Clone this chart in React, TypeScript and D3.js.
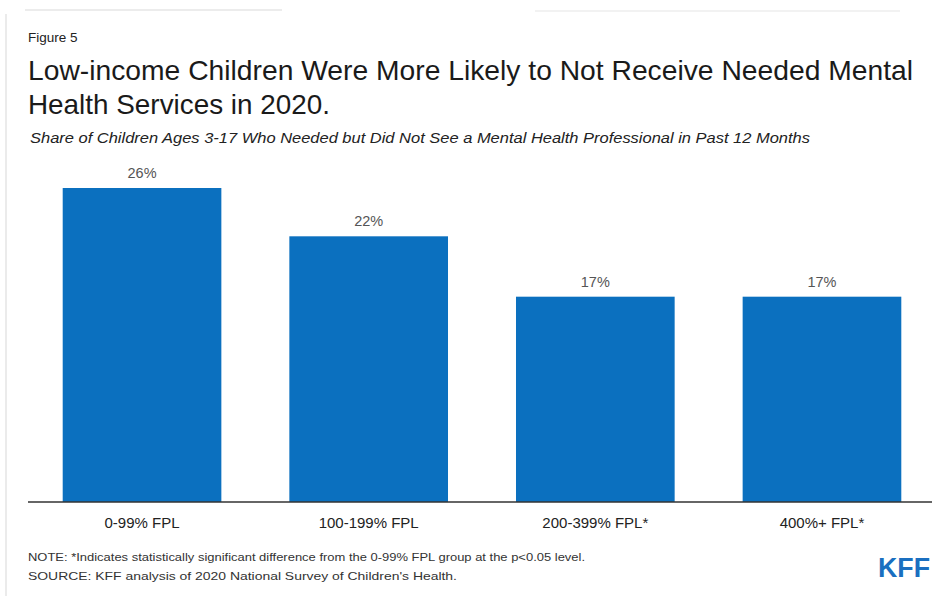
import React from "react";
import * as d3 from "d3";

const categories = ["0-99% FPL", "100-199% FPL", "200-399% FPL*", "400%+ FPL*"];
const values = [26, 22, 17, 17];
const valueLabels = ["26%", "22%", "17%", "17%"];

const W = 943;
const H = 596;

export default function App() {
  const x = d3
    .scaleBand<string>()
    .domain(categories)
    .range([28.7, 935.3])
    .paddingInner(0.3)
    .paddingOuter(0.15);
  const baseline = 502;
  const y = d3.scaleLinear().domain([0, 26]).range([baseline, 188]);
  const font = "'Liberation Sans', Arial, sans-serif";

  return (
    <div style={{ position: "absolute", left: 0, top: 0 }}>
      <svg width={W} height={H} style={{ display: "block", background: "#fff" }} fontFamily={font}>
        <rect x={0} y={0} width={W} height={H} fill="#fff" />
        <line x1={6} x2={6} y1={14} y2={596} stroke="#e4e4e4" strokeWidth={1.5} />
        <line x1={25} x2={282} y1={10} y2={10} stroke="#e6e6e6" strokeWidth={1.5} />
        <line x1={535} x2={900} y1={11} y2={11} stroke="#eeeeee" strokeWidth={1.5} />
        <text x={28} y={42} fontSize={13.5} fill="#222">Figure 5</text>
        <text x={28} y={80} fontSize={28} fill="#1a1a1a" textLength={885} lengthAdjust="spacingAndGlyphs">
          Low-income Children Were More Likely to Not Receive Needed Mental
        </text>
        <text x={28} y={114} fontSize={28} fill="#1a1a1a" textLength={302} lengthAdjust="spacingAndGlyphs">
          Health Services in 2020.
        </text>
        <text x={30} y={143} fontSize={14.5} fontStyle="italic" fill="#222" textLength={780} lengthAdjust="spacingAndGlyphs">
          Share of Children Ages 3-17 Who Needed but Did Not See a Mental Health Professional in Past 12 Months
        </text>
        {categories.map((c, i) => (
          <g key={c}>
            <rect
              x={x(c)}
              y={y(values[i])}
              width={x.bandwidth()}
              height={baseline - y(values[i])}
              fill="#0b70bf"
            />
            <text
              x={(x(c) as number) + x.bandwidth() / 2}
              y={y(values[i]) - 10}
              textAnchor="middle"
              fontSize={14.5}
              fill="#555"
            >
              {valueLabels[i]}
            </text>
            <text
              x={(x(c) as number) + x.bandwidth() / 2}
              y={528}
              textAnchor="middle"
              fontSize={15}
              fill="#222"
            >
              {c}
            </text>
          </g>
        ))}
        <line x1={28} x2={932} y1={baseline} y2={baseline} stroke="#333" strokeWidth={1.5} />
        <text x={28} y={561} fontSize={11.5} fill="#333" textLength={557} lengthAdjust="spacingAndGlyphs">
          NOTE: *Indicates statistically significant difference from the 0-99% FPL group at the p&lt;0.05 level.
        </text>
        <text x={28} y={580} fontSize={11.5} fill="#333" textLength={429} lengthAdjust="spacingAndGlyphs">
          SOURCE: KFF analysis of 2020 National Survey of Children's Health.
        </text>
        <text x={878} y={577} fontSize={28} fontWeight="bold" fill="#1a6fc0" textLength={52} lengthAdjust="spacingAndGlyphs">
          KFF
        </text>
      </svg>
    </div>
  );
}
